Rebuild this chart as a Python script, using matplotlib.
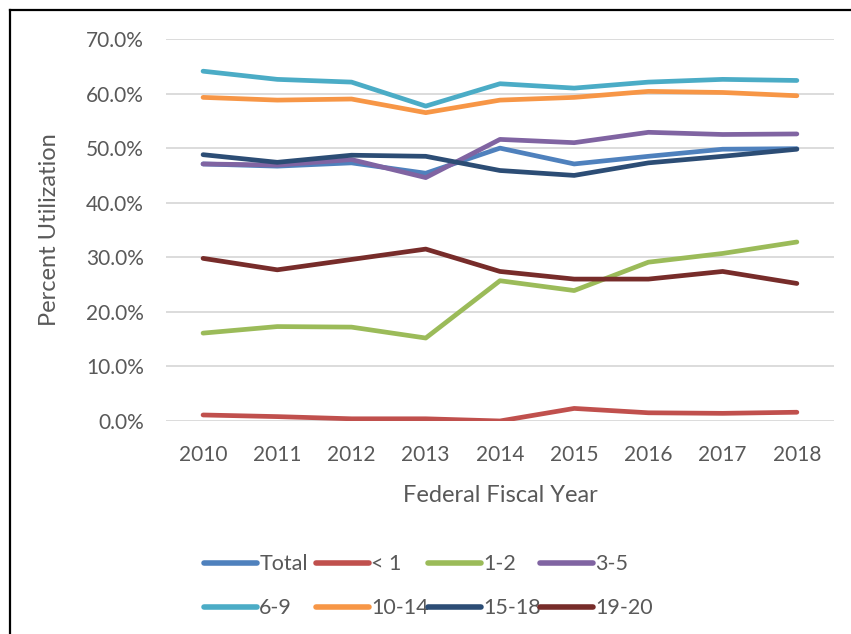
import matplotlib.pyplot as plt
from matplotlib.lines import Line2D

years = ["2010", "2011", "2012", "2013", "2014", "2015", "2016", "2017", "2018"]

# percent utilization by age group
total = [47.1, 46.7, 47.3, 45.4, 50.0, 47.1, 48.5, 49.8, 49.9]
under_1 = [1.1, 0.8, 0.4, 0.4, 0.0, 2.3, 1.5, 1.4, 1.6]
age_1_2 = [16.1, 17.3, 17.2, 15.2, 25.7, 23.9, 29.1, 30.7, 32.8]
age_3_5 = [47.1, 46.9, 47.9, 44.6, 51.6, 51.0, 52.9, 52.5, 52.6]
age_6_9 = [64.1, 62.6, 62.1, 57.7, 61.8, 61.0, 62.1, 62.6, 62.4]
age_10_14 = [59.3, 58.8, 59.0, 56.5, 58.8, 59.3, 60.4, 60.2, 59.6]
age_15_18 = [48.8, 47.4, 48.7, 48.5, 45.9, 45.0, 47.3, 48.5, 49.8]
age_19_20 = [29.8, 27.7, 29.6, 31.5, 27.4, 26.0, 26.0, 27.4, 25.2]

names = ["Total", "< 1", "1-2", "3-5", "6-9", "10-14", "15-18", "19-20"]
series = [total, under_1, age_1_2, age_3_5, age_6_9, age_10_14, age_15_18, age_19_20]
colors = ["#4F81BD", "#C0504D", "#9BBB59", "#8064A2",
          "#4BACC6", "#F79646", "#2C4D75", "#772C2A"]

plt.rcParams['font.family'] = ['Lato', 'DejaVu Sans']

fig = plt.figure(figsize=(8.51, 6.34), dpi=100)
ax = fig.add_axes([0.195, 0.336, 0.785, 0.6025])

x = list(range(len(years)))
handles = []
for name, vals, c in zip(names, series, colors):
    h, = ax.plot(x, [v / 100 for v in vals], color=c, lw=3.4,
                 solid_capstyle='round', solid_joinstyle='round', label=name)
    handles.append(h)

ax.set_xlim(-0.5, len(years) - 0.5)
ax.set_ylim(0, 0.7)
ax.set_yticks([i / 10 for i in range(8)])
ax.set_yticklabels([f"{i * 10:.1f}%" for i in range(8)])
ax.set_xticks(x)
ax.set_xticklabels(years)
ax.grid(axis='y', color='#D9D9D9', lw=1.3)
ax.set_axisbelow(True)
for s in ax.spines.values():
    s.set_visible(False)
ax.tick_params(length=0, labelsize=15, labelcolor='#595959')
ax.tick_params(axis='y', pad=16)
ax.tick_params(axis='x', pad=17)

ax.set_ylabel("Percent Utilization", fontsize=17, color='#595959')
ax.yaxis.set_label_coords(-0.159, 0.5)
ax.set_xlabel("Federal Fiscal Year", fontsize=17, color='#595959')
ax.xaxis.set_label_coords(0.5, -0.168)

# legend: four evenly spaced columns of two entries, read row-wise
col_left = [0.2275, 0.3591, 0.4907, 0.6223]
for j, xl in enumerate(col_left):
    leg = fig.legend([handles[j], handles[j + 4]], [names[j], names[j + 4]],
                     loc='upper left', bbox_to_anchor=(xl, 0.143),
                     frameon=False, fontsize=15.5, handlelength=2.45,
                     handletextpad=0.1, labelspacing=1.12, borderpad=0)
    for t in leg.get_texts():
        t.set_color('#595959')
    for h in leg.legend_handles:
        h.set_linewidth(4)

# outer border (left and top only visible)
fig.add_artist(Line2D([10 / 851, 10 / 851], [0, 624 / 634], color='black', lw=1.6))
fig.add_artist(Line2D([10 / 851, 1], [624 / 634, 624 / 634], color='black', lw=1.6))

fig.savefig("out.png", dpi=100)
